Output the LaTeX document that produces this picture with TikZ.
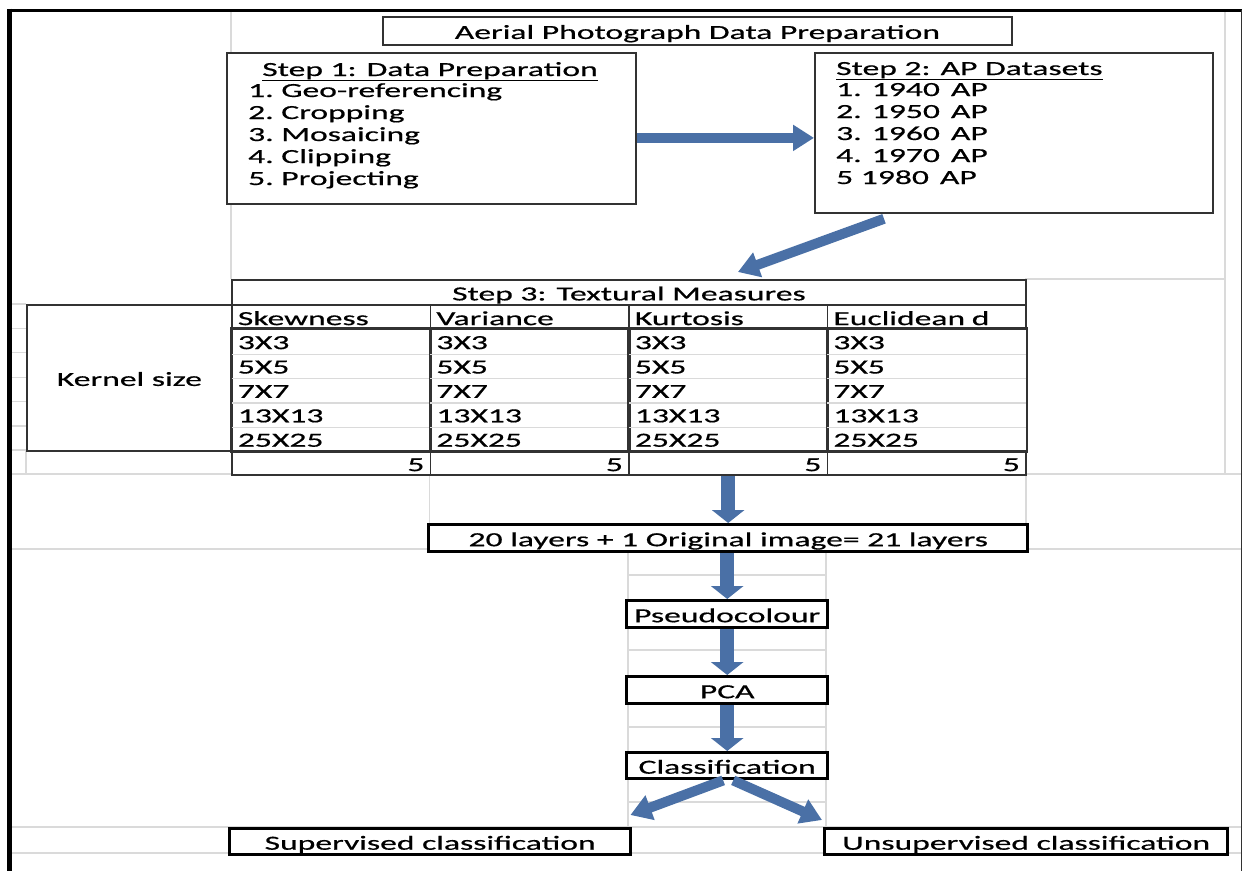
\documentclass[tikz,border=0pt]{standalone}
\usepackage{fontspec}
\setmainfont{Carlito}[FakeStretch=1.68,FakeBold=0.6]
\usetikzlibrary{positioning,arrows.meta}

\definecolor{flowblue}{RGB}{74,112,166}
\definecolor{sheetgrey}{RGB}{218,218,218}
\definecolor{boxgrey}{RGB}{50,50,50}
\newcommand{\xlfont}{\fontsize{20}{22}\selectfont}

\begin{document}
\begin{tikzpicture}[x=1pt,y=-1pt]
  \tikzset{
    xl/.style={inner sep=0pt,text height=16pt,text depth=0pt,font=\xlfont},
    txt/.style={inner sep=0pt,font=\xlfont},
    thinbox/.style={xl,draw=boxgrey,line width=1.8pt,fill=white},
    thickbox/.style={xl,draw=black,line width=3.4pt,fill=white},
    cell/.style={xl,draw=boxgrey,line width=1.8pt,minimum height=24.4pt,text width=186.5pt,inner xsep=6pt,align=left},
    flow/.style={draw=flowblue,line width=10pt,-{Triangle[length=21pt,width=25pt]}},
    flowdown/.style={draw=flowblue,line width=14pt,-{Triangle[length=13pt,width=32pt]}},
    sheetline/.style={draw=sheetgrey,line width=1.2pt}
  }
  \useasboundingbox (0,0) rectangle (1242,871);

  %% spreadsheet grid
  \draw[sheetline] (231,10) -- (231,279);
  \draw[sheetline] (1225,10) -- (1225,474);
  \draw[sheetline] (1025,279) -- (1225,279);
  \foreach \y in {304,328.4,352.8,377.2,401.6,426,450}
    \draw[sheetline] (12,\y) -- (26,\y);
  \draw[sheetline] (12,474) -- (231,474);
  \draw[sheetline] (26,450) -- (26,474);
  \draw[sheetline] (1025,474) -- (1242,474);
  \draw[sheetline] (1026,474) -- (1026,549);
  \draw[sheetline] (429.5,474) -- (429.5,523);
  \draw[sheetline] (12,549) -- (427,549);
  \draw[sheetline] (1026,549) -- (1242,549);
  \draw[sheetline] (628,549) -- (628,827);
  \draw[sheetline] (826,549) -- (826,827);
  \foreach \y in {575,650,727,802}
    \draw[sheetline] (628,\y) -- (826,\y);
  \draw[sheetline] (12,827) -- (1242,827);
  \draw[sheetline] (12,853) -- (1242,853);

  %% frame
  \draw[line width=3pt] (8,10) -- (1242,10);
  \draw[line width=4.5pt] (9.5,8.5) -- (9.5,871);
  \draw[boxgrey,line width=1pt] (1241,10) -- (1241,871);

  %% steps 1 and 2
  \node[thinbox,minimum width=629pt,minimum height=28pt,anchor=north west] (title) at (382,16) {Aerial Photograph Data Preparation};

  \node[thinbox,minimum width=409pt,minimum height=151pt,anchor=north west] (step1) at (226,52) {};
  \node[txt,anchor=base] (step1title) at (430,76) {\underline{Step 1: Data Preparation}};
  \foreach \lbl [count=\i] in {Geo-referencing,Cropping,Mosaicing,Clipping,Projecting}
    \node[txt,anchor=base west] (step1item\i) at (248,75+22*\i) {\i.~\lbl};

  \node[thinbox,minimum width=398pt,minimum height=160pt,anchor=north west] (step2) at (814,52) {};
  \node[txt,anchor=base west] (step2title) at (836,75) {\underline{Step 2: AP Datasets}};
  \foreach \lbl [count=\i] in {1. 1940,2. 1950,3. 1960,4. 1970,5 1980}
    \node[txt,anchor=base west] (step2item\i) at (836,74+22*\i) {\lbl\hspace{11pt}AP};

  \draw[flow] ([yshift=-9.5pt]step1.east) -- ([yshift=-5pt]step2.west);

  %% step 3 table
  \node[thinbox,minimum width=794pt,minimum height=25pt,anchor=north west] (step3) at (231,279) {Step 3: Textural Measures};
  \node[xl,draw=boxgrey,line width=1.8pt,minimum width=205pt,minimum height=146pt,anchor=north west] (kernel) at (26,304) {Kernel size};
  \foreach \col/\head [count=\c from 0] in {skew/Skewness,var/Variance,kurt/Kurtosis,eucl/Euclidean d} {
    \node[cell,anchor=north west] (\col) at (231+198.5*\c,304) {\head};
    \foreach \size [count=\r] in {3X3,5X5,7X7,13X13,25X25}
      \node[cell,draw=none,anchor=north west] (\col\r) at (231+198.5*\c,303.6+24.4*\r) {\size};
    \foreach \r in {1,...,4}
      \draw[sheetline] (\col\r.south west) -- (\col\r.south east);
    \draw[boxgrey,line width=1.8pt] (\col1.north west) rectangle (\col5.south east);
    \node[cell,anchor=north west,align=right] (\col-n) at (231+198.5*\c,450) {5};
  }

  \draw[flow] ([shift={(70pt,-5pt)}]step2.south west) -- ([shift={(109pt,7pt)}]step3.north);

  %% processing chain
  \node[thickbox,minimum width=599pt,minimum height=27pt,anchor=north west] (layers) at (427,523) {20 layers + 1 Original image= 21 layers};
  \node[thickbox,minimum width=201pt,minimum height=27pt,anchor=north west] (pseudo) at (625,599) {Pseudocolour};
  \node[thickbox,minimum width=201pt,minimum height=27pt,anchor=north west] (pca) at (625,675) {PCA};
  \node[thickbox,minimum width=201pt,minimum height=26pt,anchor=north west] (classif) at (625,751) {Classification};
  \node[thickbox,minimum width=401pt,minimum height=26pt,anchor=north west] (sup) at (228,827) {Supervised classification};
  \node[thickbox,minimum width=403pt,minimum height=26pt,anchor=north west] (unsup) at (823,827) {Unsupervised classification};

  \draw[flowdown] (kurt-n.south) -- (kurt-n.south |- layers.north);
  \draw[flowdown] (pseudo.north |- layers.south) -- (pseudo.north);
  \draw[flowdown] (pseudo.south) -- (pca.north);
  \draw[flowdown] (pca.south) -- (classif.north);
  \draw[flow] ([xshift=-4pt]classif.south) -- ([shift={(-2pt,12pt)}]sup.north east);
  \draw[flow] ([xshift=6pt]classif.south) -- ([shift={(-1pt,7pt)}]unsup.north west);
\end{tikzpicture}
\end{document}
